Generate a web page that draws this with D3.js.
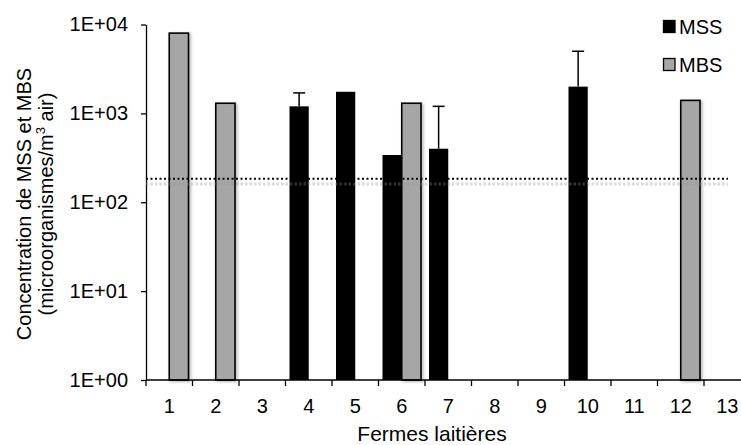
<!DOCTYPE html>
<html>
<head>
<meta charset="utf-8">
<script src="https://cdn.jsdelivr.net/npm/d3@7/dist/d3.min.js"></script>
<style>
  body { margin: 0; background: #fff; }
  svg { display: block; font-family: "Liberation Sans", Arial, sans-serif; }
</style>
</head>
<body>
<div id="viz"></div>
<script>
// farms on the x axis
var farms = ["1", "2", "3", "4", "5", "6", "7", "8", "9", "10", "11", "12", "13"];
// MSS concentrations (null = no bar) and upper error amount
var mssValues = [null, null, null, 1200, 1750, 340, 400, null, null, 2000, null, null, null];
var mssErrors = [null, null, null, 500, null, null, 800, null, null, 3000, null, null, null];
// MBS concentrations
var mbsValues = [8000, 1300, null, null, null, 1300, null, null, null, null, null, 1400, null];
// reference levels (dotted lines)
var mssLimit = 184;
var mbsLimit = 160;
var yTicks = [1, 10, 100, 1000, 10000];
var seriesNames = ["MSS", "MBS"];

var width = 741, height = 445;
var plotLeft = 146, plotBottom = 380, plotTop = 24.5, band = 46.5;

var svg = d3.select("#viz").append("svg")
  .attr("width", width)
  .attr("height", height);

var defs = svg.append("defs");
defs.append("filter").attr("id", "shadow")
  .attr("x", "-30%").attr("y", "-5%").attr("width", "160%").attr("height", "110%")
  .append("feDropShadow")
  .attr("dx", 1.5).attr("dy", 1).attr("stdDeviation", 1.5)
  .attr("flood-color", "#000").attr("flood-opacity", 0.3);

var x = d3.scaleBand().domain(farms).range([plotLeft, plotLeft + band * farms.length]).padding(0);
var x1 = d3.scaleBand().domain(seriesNames).range([4, 42.5]).padding(0);
var y = d3.scaleLog().domain([1, 10000]).range([plotBottom, plotTop]);

var fmt = function (d) {
  return "1E+0" + Math.round(Math.log10(d));
};

// y axis
var yAxis = d3.axisLeft(y).tickValues(yTicks).tickFormat(fmt).tickSize(5).tickSizeOuter(0).tickPadding(13);
var gy = svg.append("g").attr("transform", "translate(" + plotLeft + ",0)").call(yAxis);
gy.selectAll("text").style("font-size", "20px").attr("fill", "#000");
gy.selectAll("line, path").attr("stroke", "#000").attr("stroke-width", 1.3);

// bars MBS
var mbsData = farms.map(function (f, i) { return { farm: f, value: mbsValues[i] }; })
  .filter(function (d) { return d.value !== null; });
var mssData = farms.map(function (f, i) { return { farm: f, value: mssValues[i], err: mssErrors[i] }; })
  .filter(function (d) { return d.value !== null; });

svg.selectAll(".mbs")
  .data(mbsData)
  .enter()
  .append("rect")
  .attr("class", "mbs")
  .attr("x", function (d) { return x(d.farm) + x1("MBS"); })
  .attr("width", x1.bandwidth())
  .attr("y", function (d) { return y(d.value); })
  .attr("height", function (d) { return plotBottom - y(d.value); })
  .attr("fill", "#a6a6a6")
  .attr("stroke", "#000")
  .attr("stroke-width", 1.6)
  .attr("filter", "url(#shadow)");

svg.selectAll(".mss")
  .data(mssData)
  .enter()
  .append("rect")
  .attr("class", "mss")
  .attr("x", function (d) { return x(d.farm) + x1("MSS"); })
  .attr("width", x1.bandwidth())
  .attr("y", function (d) { return y(d.value); })
  .attr("height", function (d) { return plotBottom - y(d.value); })
  .attr("fill", "#000");

// error bars (upper only)
var errData = mssData.filter(function (d) { return d.err !== null; });
var eg = svg.selectAll(".err").data(errData).enter().append("g").attr("class", "err");
eg.append("line")
  .attr("x1", function (d) { return x(d.farm) + x1("MSS") + x1.bandwidth() / 2; })
  .attr("x2", function (d) { return x(d.farm) + x1("MSS") + x1.bandwidth() / 2; })
  .attr("y1", function (d) { return y(d.value); })
  .attr("y2", function (d) { return y(d.value + d.err); })
  .attr("stroke", "#000").attr("stroke-width", 1.5);
eg.append("line")
  .attr("x1", function (d) { return x(d.farm) + x1("MSS") + x1.bandwidth() / 2 - 6; })
  .attr("x2", function (d) { return x(d.farm) + x1("MSS") + x1.bandwidth() / 2 + 6; })
  .attr("y1", function (d) { return y(d.value + d.err); })
  .attr("y2", function (d) { return y(d.value + d.err); })
  .attr("stroke", "#000").attr("stroke-width", 1.5);

// reference lines
svg.append("line")
  .attr("x1", plotLeft).attr("x2", 728)
  .attr("y1", y(mbsLimit)).attr("y2", y(mbsLimit))
  .attr("stroke", "rgba(146,146,146,0.35)")
  .attr("stroke-width", 3)
  .attr("stroke-dasharray", "2.5,2");
svg.append("line")
  .attr("x1", plotLeft).attr("x2", 728)
  .attr("y1", y(mssLimit)).attr("y2", y(mssLimit))
  .attr("stroke", "#000")
  .attr("stroke-width", 2)
  .attr("stroke-dasharray", "2,2.5");

// x axis
var xAxis = d3.axisBottom(x).tickSize(0).tickPadding(19);
var gx = svg.append("g").attr("transform", "translate(0," + plotBottom + ")").call(xAxis);
gx.select(".domain").remove();
gx.selectAll("text").style("font-size", "20px").attr("fill", "#000");
svg.append("line")
  .attr("x1", plotLeft).attr("x2", width)
  .attr("y1", plotBottom).attr("y2", plotBottom)
  .attr("stroke", "#000").attr("stroke-width", 1.3);
svg.selectAll(".xtick")
  .data(farms)
  .enter()
  .append("line")
  .attr("class", "xtick")
  .attr("x1", function (d) { return x(d); })
  .attr("x2", function (d) { return x(d); })
  .attr("y1", plotBottom).attr("y2", plotBottom + 6)
  .attr("stroke", "#000").attr("stroke-width", 1.3);

// axis titles
svg.append("text")
  .attr("x", 432)
  .attr("y", 441)
  .attr("text-anchor", "middle")
  .style("font-size", "21px")
  .text("Fermes laitières");

var yt = svg.append("text")
  .attr("transform", "translate(0,204) rotate(-90)")
  .attr("text-anchor", "middle")
  .style("font-size", "20px");
yt.append("tspan").attr("x", 0).attr("y", 31).text("Concentration de MSS et MBS");
var t2 = yt.append("tspan").attr("x", 0).attr("y", 53);
t2.append("tspan").text("(microorganismes/m");
t2.append("tspan").attr("dy", -8).style("font-size", "13px").text("3");
t2.append("tspan").attr("dy", 8).text(" air)");

// legend
var legend = svg.append("g").attr("transform", "translate(663,20)");
var li = legend.selectAll("g").data(seriesNames).enter().append("g")
  .attr("transform", function (d, i) { return "translate(0," + i * 38 + ")"; });
li.append("rect")
  .attr("x", 0.5).attr("y", 0.5).attr("width", 11.5).attr("height", 12)
  .attr("fill", function (d) { return d === "MSS" ? "#000" : "#a6a6a6"; })
  .attr("stroke", "#000").attr("stroke-width", 1.3);
li.append("text")
  .attr("x", 16).attr("y", 13.5)
  .style("font-size", "20px")
  .text(function (d) { return d; });
</script>
</body>
</html>
